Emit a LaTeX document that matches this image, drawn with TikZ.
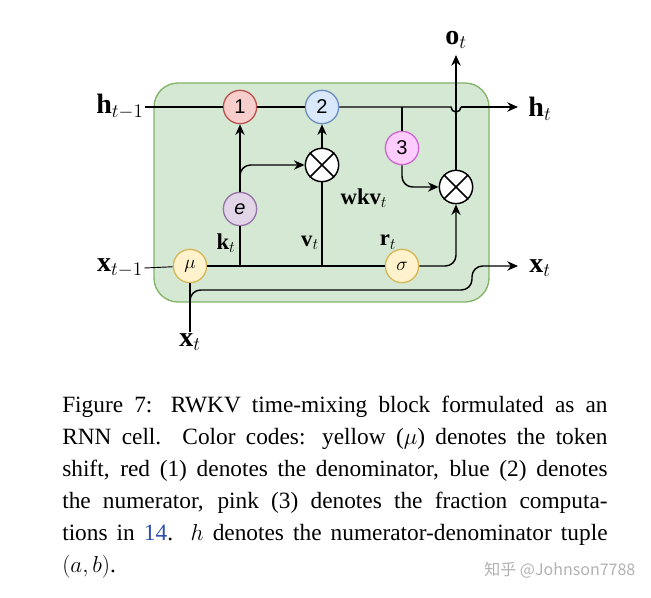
\documentclass[tikz,border=0pt]{standalone}
\usepackage{amsmath}
\usepackage{fontspec}
\setmainfont{Liberation Serif}
\newfontfamily\cjk{Noto Sans CJK SC}
\newfontfamily\hsans{Liberation Sans}
\usetikzlibrary{arrows.meta}
\definecolor{gfill}{HTML}{D5E8D4}\definecolor{gline}{HTML}{82B366}
\definecolor{rfill}{HTML}{F8CECC}\definecolor{rline}{HTML}{B85450}
\definecolor{bfill}{HTML}{DAE8FC}\definecolor{bline}{HTML}{6C8EBF}
\definecolor{pfill}{HTML}{FFCCFF}\definecolor{pline}{HTML}{CC66CC}
\definecolor{vfill}{HTML}{E1D5E7}\definecolor{vline}{HTML}{9673A6}
\definecolor{yfill}{HTML}{FFF2CC}\definecolor{yline}{HTML}{D6B656}
\definecolor{linkc}{HTML}{2E4FB0}
\begin{document}
\begin{tikzpicture}[x=0.75pt,y=-0.75pt,
  op/.style={circle,draw,line width=1pt,minimum size=25pt,inner sep=0pt,font=\hsans\fontsize{15}{15}\selectfont},
  mul/.style={circle,draw=black,fill=white,line width=1.1pt,minimum size=25pt,inner sep=0pt},
  lab/.style={font=\fontsize{17}{17}\selectfont,inner sep=1pt},
  big/.style={font=\fontsize{21}{21}\selectfont,inner sep=1pt},
  ln/.style={line width=1.1pt},
  ar/.style={ln,-{Stealth[length=8pt,width=7pt]}},
  rc/.style={rounded corners=8pt}]
\useasboundingbox (0,0) rectangle (651,598);
\fill[white] (0,0) rectangle (651,598);
\draw[fill=gfill,draw=gline,line width=1pt,rounded corners=18pt] (154,83) rectangle (489,302);
\node[op,fill=rfill,draw=rline] (n1) at (240,107) {1};
\node[op,fill=bfill,draw=bline] (n2) at (322,107) {2};
\node[op,fill=pfill,draw=pline] (n3) at (402,148) {3};
\node[op,fill=vfill,draw=vline] (e) at (240,209) {\itshape e};
\node[op,fill=yfill,draw=yline] (mu) at (190,266) {$\mu$};
\node[op,fill=yfill,draw=yline] (sg) at (402,266) {$\sigma$};
\node[mul] (m1) at (322,165) {};
\node[mul] (m2) at (456,187) {};
\foreach \m in {m1,m2}{\draw[line width=1.1pt] (\m.north east)--(\m.south west) (\m.north west)--(\m.south east);}
\node[big] (hin) at (120,107) {$\mathbf{h}_{t-1}$};
\node[big] (hout) at (540,109) {$\mathbf{h}_t$};
\node[big] (xin) at (120,268) {$\mathbf{x}_{t-1}$};
\node[big] (xout) at (540,268) {$\mathbf{x}_t$};
\node[big] (xt) at (190,342) {$\mathbf{x}_t$};
\node[big] (ot) at (456,40) {$\mathbf{o}_t$};
\node[lab] (kt) at (226,243) {$\mathbf{k}_t$};
\node[lab] (vt) at (310,243) {$\mathbf{v}_t$};
\node[lab] (rt) at (388,242) {$\mathbf{r}_t$};
\node[lab] (wkv) at (364,198) {$\mathbf{wkv}_t$};
\coordinate (hend) at (518,107);
\coordinate (xend) at (518,266);
\coordinate (otip) at (456,55);
\draw[ln] (hin.east) -- (n1);
\draw[ln] (n1) -- (n2);
\draw[ln] (n2) -- (451,107) arc[start angle=180,end angle=0,radius=5] -- (461,107);
\draw[ar] (461,107) -- (hend);
\draw[ln] (402,107) -- (n3);
\draw[ar] (e) -- (n1);
\draw[ar,rc] (240,185) |- (m1);
\draw[ln] (240,266) -- (e);
\draw[ar] (m1) -- (n2);
\draw[ln] (322,266) -- (m1);
\draw[ln,line width=0.7pt] (xin.east) -- (mu);
\draw[ln] (mu) -- (sg);
\draw[ar,rc] (sg) -| (m2);
\draw[ar,rc] (n3) |- (m2);
\draw[ar] (m2) -- (otip);
\draw[ln] (mu) -- (xt.north);
\draw[ar,rc] (190,304) |- (472,290) |- (xend);
\node[anchor=north west,inner sep=0pt,text width=409pt,align=justify,
  font=\fontsize{17.5}{24}\selectfont] (cap) at (62,396) {Figure 7: RWKV time-mixing block formulated as an\linebreak RNN cell. Color codes: yellow ($\mu$) denotes the token\linebreak shift, red (1) denotes the denominator, blue (2) denotes\linebreak the numerator, pink (3) denotes the fraction computa-\linebreak tions in \textcolor{linkc}{14}. $h$ denotes the numerator-denominator tuple\linebreak $(a,b)$.};
\node[anchor=east,text=gray!60,font=\cjk\fontsize{12}{12}\selectfont] (wm) at (640,570) {知乎 @Johnson7788};
\end{tikzpicture}
\end{document}
